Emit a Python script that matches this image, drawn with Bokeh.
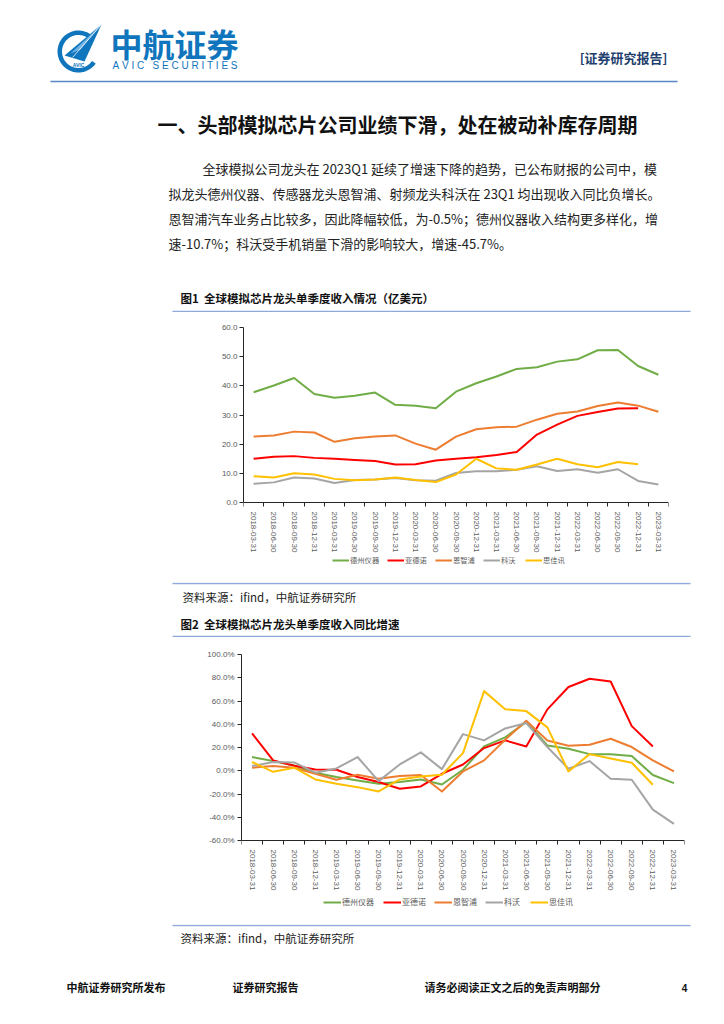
import numpy as np
from bokeh.plotting import figure
from bokeh.models import Range1d, FixedTicker, PrintfTickFormatter, Legend, LegendItem
from bokeh.core.properties import value
from bokeh.embed import file_html
from bokeh.resources import INLINE

NAN = float("nan")

# ---------------- data ----------------
quarters = ["2018-03-31", "2018-06-30", "2018-09-30", "2018-12-31", "2019-03-31", "2019-06-30",
            "2019-09-30", "2019-12-31", "2020-03-31", "2020-06-30", "2020-09-30", "2020-12-31",
            "2021-03-31", "2021-06-30", "2021-09-30", "2021-12-31", "2022-03-31", "2022-06-30",
            "2022-09-30", "2022-12-31", "2023-03-31"]
companies = ["德州仪器", "亚德诺", "恩智浦", "科沃", "思佳讯"]
colors = ["#70AD47", "#FF0000", "#ED7D31", "#A5A5A5", "#FFC000"]

# revenue, 亿美元
ti_rev = [37.8, 40.1, 42.7, 37.2, 35.9, 36.6, 37.7, 33.5, 33.2, 32.3, 38.0, 40.9, 43.2, 45.8, 46.4, 48.3, 49.1, 52.2, 52.3, 46.8, 43.8]
adi_rev = [15.0, 15.7, 15.9, 15.3, 15.0, 14.6, 14.2, 13.0, 13.1, 14.4, 15.0, 15.5, 16.3, 17.3, 23.3, 26.7, 29.7, 31.0, 32.2, 32.3, NAN]
nxp_rev = [22.6, 23.0, 24.3, 24.0, 20.8, 22.0, 22.6, 23.0, 20.2, 18.1, 22.6, 25.1, 25.8, 26.0, 28.4, 30.4, 31.2, 33.1, 34.3, 33.2, 31.1]
qrvo_rev = [6.4, 6.9, 8.6, 8.2, 6.7, 7.7, 7.9, 8.4, 7.6, 7.5, 10.1, 10.7, 10.7, 11.2, 12.4, 10.8, 11.4, 10.2, 11.4, 7.4, 6.2]
swks_rev = [9.0, 8.6, 10.0, 9.6, 8.1, 7.6, 7.9, 8.6, 7.7, 7.0, 9.6, 15.0, 11.7, 11.2, 13.0, 15.0, 13.1, 12.1, 13.9, 13.1, NAN]

# YoY growth, %
ti_yoy = [11.8, 8.3, 4.6, -1.7, -5.4, -8.3, -11.2, -9.7, -7.5, -11.8, 0.9, 20.9, 28.7, 41.9, 21.8, 18.9, 14.3, 14.1, 12.6, -3.7, -10.7]
adi_yoy = [32.1, 8.9, 4.3, 1.1, 0.9, -5.4, -9.7, -15.5, -13.5, -2.6, 5.4, 19.5, 26.1, 20.9, 52.8, 72.0, 79.1, 76.8, 38.4, 20.9, NAN]
nxp_yoy = [2.6, 4.0, 2.6, -2.6, -7.7, -3.4, -6.9, -4.6, -3.7, -17.8, -0.6, 8.9, 26.7, 43.0, 26.1, 21.5, 22.4, 27.5, 20.4, 8.9, -0.5]
qrvo_yoy = [4.0, 7.5, 7.2, -1.7, 2.0, 11.8, -8.9, 5.4, 15.8, 1.4, 31.5, 26.1, 36.4, 41.0, 20.4, 1.7, 8.3, -6.9, -7.7, -33.5, -45.7]
swks_yoy = [7.5, -0.9, 2.6, -7.5, -11.2, -14.1, -17.8, -7.5, -4.9, -3.4, 15.2, 68.5, 53.0, 51.3, 37.3, -0.6, 14.3, 10.6, 6.9, -12.0, NAN]

rev_ticks = [0, 10, 20, 30, 40, 50, 60]
yoy_ticks = [-60, -40, -20, 0, 20, 40, 60, 80, 100]

# ---------------- text ----------------
title_text = "一、头部模拟芯片公司业绩下滑，处在被动补库存周期"
para_lines = [
    "全球模拟公司龙头在 2023Q1 延续了增速下降的趋势，已公布财报的公司中，模",
    "拟龙头德州仪器、传感器龙头恩智浦、射频龙头科沃在 23Q1 均出现收入同比负增长。",
    "恩智浦汽车业务占比较多，因此降幅较低，为-0.5%；德州仪器收入结构更多样化，增",
    "速-10.7%；科沃受手机销量下滑的影响较大，增速-45.7%。",
]
fig1_title = "图1\u00a0\u00a0全球模拟芯片龙头单季度收入情况（亿美元）"
fig2_title = "图2\u00a0\u00a0全球模拟芯片龙头单季度收入同比增速"
source_text = "资料来源：ifind，中航证券研究所"
brand_en = "\u00a0".join("AVIC") + "\u00a0\u00a0\u00a0" + "\u00a0".join("SECURITIES")

CJK = value("Noto Sans CJK SC")
LAT = value("Liberation Sans")
RULE = "#8EAADB"
W = 720


def canvas(top, bottom):
    f = figure(width=W, height=bottom - top, x_range=Range1d(0, W), y_range=Range1d(bottom, top),
               output_backend="svg", toolbar_location=None, x_axis_location=None,
               y_axis_location=None, min_border=0, outline_line_color=None)
    f.xgrid.visible = False
    f.ygrid.visible = False
    return f


def txt(f, x, y, s, size, color="#1a1a1a", bold=False, align="left", font=CJK):
    f.text(x=[x], y=[y], text=[s], text_font=font, text_font_size=f"{size}px",
           text_font_style="bold" if bold else "normal", text_color=color,
           text_align=align, text_baseline="middle")


def rule(f, y, x0=172, x1=690, color=RULE, w=1.5):
    f.segment(x0=[x0], y0=[y], x1=[x1], y1=[y], line_color=color, line_width=w)


# ---------------- top text block ----------------
A = canvas(0, 312)
BLUE = "#0F75BC"
th = np.radians(np.linspace(55, 325, 60))
cx, cy, R, r = 78.0, 51.0, 21.0, 16.5
xs = list(cx + R * np.cos(th)) + list(cx + r * np.cos(th[::-1]))
ys = list(cy - R * np.sin(th)) + list(cy - r * np.sin(th[::-1]))
A.patch(xs, ys, fill_color=BLUE, line_color=None)
A.patch([64, 101, 84], [55, 24, 61], fill_color=BLUE, line_color=None)
A.patch([70, 101, 80], [53, 24, 49], fill_color="#6FB3E6", line_color=None)
A.segment(x0=[72], y0=[57], x1=[101], y1=[24], line_color="white", line_width=0.8)
txt(A, 78, 64, "AVIC", 5, color=BLUE, bold=True, align="center", font=LAT)
txt(A, 110, 42, "中航证券", 32, color=BLUE, bold=True)
txt(A, 112, 64.5, brand_en, 10, color=BLUE, font=LAT)
txt(A, 667, 57, "[证券研究报告]", 13, color="#1F3F6E", bold=True, align="right")
rule(A, 81, 50, 677, color="#5B86C4", w=1.5)

txt(A, 157, 124, title_text, 20, color="#111111", bold=True)
para_x = [202, 168, 168, 168]
para_y = [167.5, 192.6, 217.7, 242.9]
for lx, ly, s in zip(para_x, para_y, para_lines):
    txt(A, lx, ly, s, 13, color="#222222")
txt(A, 180, 297.5, fig1_title, 11.5, color="#111111", bold=True)
rule(A, 311)


# ---------------- charts ----------------
def chart(fig_top, fig_bottom, frame_top, axis_px, frame_bottom, frame_left, frame_right,
          ticks, fmt, series, standoff, legend_xs, legend_cy, legend_font, glyph_w):
    lo, hi = ticks[0], ticks[-1]
    # extend the range below the x axis so that tick labels and legend sit inside the frame
    ext_lo = lo - (frame_bottom - axis_px) * (hi - lo) / (axis_px - frame_top)
    p = figure(width=W, height=fig_bottom - fig_top, x_range=Range1d(-0.5, 20.5),
               y_range=Range1d(ext_lo, hi), output_backend="svg",
               toolbar_location=None, min_border_left=frame_left, min_border_right=W - frame_right,
               min_border_top=frame_top - fig_top, min_border_bottom=fig_bottom - frame_bottom,
               outline_line_color=None)
    p.xgrid.visible = False
    p.ygrid.visible = False
    idx = list(range(len(quarters)))
    lh = 10
    for (name, vals, color), lx in zip(series, legend_xs):
        rr = p.line(x=idx, y=vals, line_color=color, line_width=2, line_join="round")
        leg = Legend(items=[LegendItem(label=name, renderers=[rr])],
                     location=(lx - frame_left, frame_bottom - (legend_cy + lh / 2)),
                     orientation="horizontal",
                     glyph_width=glyph_w, glyph_height=lh, label_height=lh, label_width=5,
                     label_standoff=1, spacing=0, padding=0, margin=0,
                     label_text_font="Noto Sans CJK SC", label_text_font_size=legend_font,
                     label_text_color="#595959", border_line_color=None,
                     background_fill_alpha=0)
        p.add_layout(leg)
    xa = p.xaxis[0]
    xa.fixed_location = lo
    xa.ticker = FixedTicker(ticks=idx, minor_ticks=[i - 0.5 for i in range(len(quarters) + 1)])
    xa.major_label_overrides = {i: q for i, q in enumerate(quarters)}
    xa.major_label_orientation = "vertical"
    xa.major_tick_out = 0
    xa.major_tick_in = 0
    xa.minor_tick_out = 4
    xa.minor_tick_in = 0
    xa.major_label_standoff = 5
    ya = p.yaxis[0]
    ya.bounds = (lo, hi)
    ya.ticker = FixedTicker(ticks=ticks)
    ya.formatter = PrintfTickFormatter(format=fmt)
    ya.major_tick_out = 4
    ya.major_tick_in = 0
    ya.minor_tick_out = 0
    ya.minor_tick_in = 0
    ya.major_label_standoff = standoff
    for ax in (xa, ya):
        ax.axis_line_color = "#262626"
        ax.major_tick_line_color = "#262626"
        ax.minor_tick_line_color = "#262626"
        ax.major_label_text_font = "Liberation Sans"
        ax.major_label_text_font_size = "8px"
        ax.major_label_text_color = "#595959"
    return p


rev_series = list(zip(companies, [ti_rev, adi_rev, nxp_rev, qrvo_rev, swks_rev], colors))
yoy_series = list(zip(companies, [ti_yoy, adi_yoy, nxp_yoy, qrvo_yoy, swks_yoy], colors))

C1 = chart(312, 582, 327, 502, 572, 243, 668, rev_ticks, "%.1f", rev_series, 2,
           [332, 387, 435, 483, 525], 560, "7.3px", 17)

B = canvas(582, 637)
rule(B, 583)
txt(B, 182, 596, source_text, 11.5, color="#222222")
txt(B, 180, 623.5, fig2_title, 11.5, color="#111111", bold=True)
rule(B, 636)

C2 = chart(637, 924, 654, 840, 914, 241, 684, yoy_ticks, "%.1f%%", yoy_series, 3,
           [323, 383, 434, 485, 530], 902, "8px", 18)

C = canvas(924, 1016)
rule(C, 925)
txt(C, 180, 937, source_text, 11.5, color="#222222")
txt(C, 66, 986, "中航证券研究所发布", 11, color="#111111", bold=True)
txt(C, 232, 986, "证券研究报告", 11, color="#111111", bold=True)
txt(C, 424, 986, "请务必阅读正文之后的免责声明部分", 11, color="#111111", bold=True)
txt(C, 684, 987, "4", 10, color="#111111", bold=True, align="center", font=LAT)

open("out.html", "w").write(file_html([A, C1, B, C2, C], INLINE))
